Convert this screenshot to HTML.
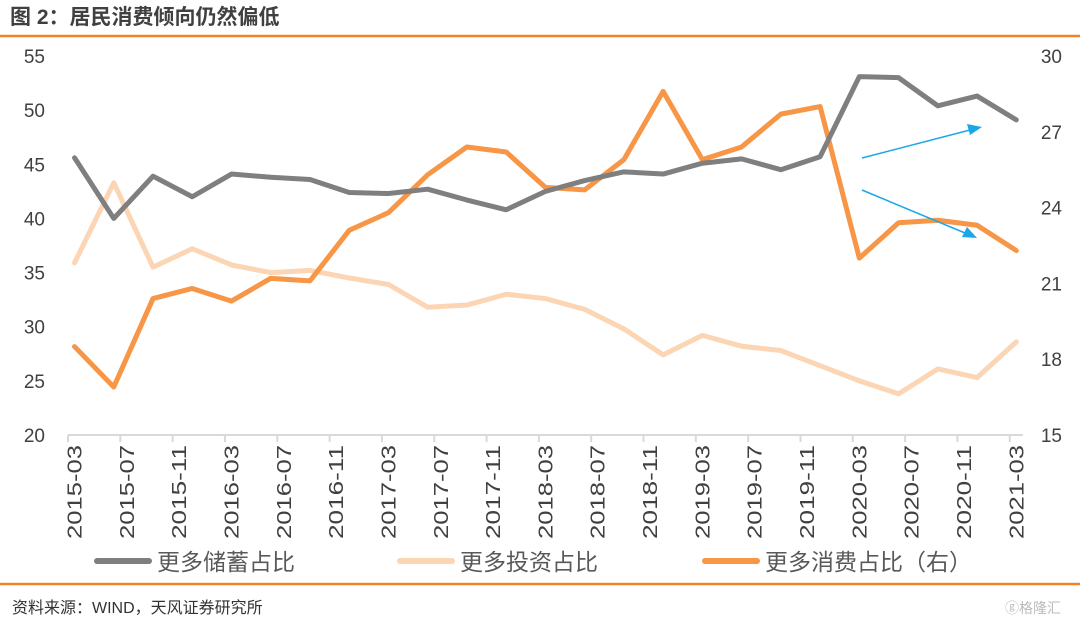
<!DOCTYPE html>
<html><head><meta charset="utf-8"><style>
body{margin:0;background:#fff;width:1080px;height:623px;overflow:hidden;font-family:"Liberation Sans","Noto Sans CJK SC",sans-serif}
</style></head><body>
<svg width="1080" height="623" xmlns="http://www.w3.org/2000/svg" id="chart">
<text x="10" y="24" font-size="21" font-weight="bold" fill="#404040" font-family="Liberation Sans, Noto Sans CJK SC, sans-serif">图 2：居民消费倾向仍然偏低</text>
<line x1="0" y1="36" x2="1080" y2="36" stroke="#f0822a" stroke-width="2.5"/>
<line x1="0" y1="584" x2="1080" y2="584" stroke="#f0822a" stroke-width="2.5"/>
<text x="12" y="613" font-size="16" fill="#333" font-family="Liberation Sans, Noto Sans CJK SC, sans-serif">资料来源：WIND，天风证券研究所</text>
<text x="1005" y="613" font-size="14" fill="#bbb" font-family="Liberation Sans, Noto Sans CJK SC, sans-serif">ⓖ格隆汇</text>
<g id="axes"></g><g id="series"></g>
<g>
<line x1="862" y1="158" x2="970" y2="130" stroke="#1aa7e8" stroke-width="1.5"/><polygon points="982,127 967,124 970,135" fill="#1aa7e8"/></g>
<g>
<line x1="862" y1="190" x2="965" y2="233" stroke="#1aa7e8" stroke-width="1.5"/><polygon points="977,238 967,227 962,237" fill="#1aa7e8"/></g>
<g id="legend"></g>
</svg>
<script>
const categories=["2015-03","2015-06","2015-09","2015-12","2016-03","2016-06","2016-09","2016-12","2017-03","2017-06","2017-09","2017-12","2018-03","2018-06","2018-09","2018-12","2019-03","2019-06","2019-09","2019-12","2020-03","2020-06","2020-09","2020-12","2021-03"];
const savings=[45.6,40,43.9,42,44.1,43.8,43.6,42.4,42.3,42.7,41.7,40.8,42.5,43.5,44.3,44.1,45.1,45.5,44.5,45.7,53.1,53,50.4,51.3,49.1];
const investment=[35.9,43.3,35.5,37.2,35.7,35,35.2,34.5,33.9,31.8,32,33,32.6,31.6,29.8,27.4,29.2,28.2,27.8,26.4,25,23.8,26.1,25.3,28.6];
const consumption=[18.5,16.9,20.4,20.8,20.3,21.2,21.1,23.1,23.8,25.3,26.4,26.2,24.8,24.7,25.9,28.6,25.9,26.4,27.7,28,22,23.4,23.5,23.3,22.3];
const leftTicks=[20,25,30,35,40,45,50,55];
const rightTicks=[15,18,21,24,27,30];
const xTickLabels=["2015-03","2015-07","2015-11","2016-03","2016-07","2016-11","2017-03","2017-07","2017-11","2018-03","2018-07","2018-11","2019-03","2019-07","2019-11","2020-03","2020-07","2020-11","2021-03"];
const NS="http://www.w3.org/2000/svg";
const X0=68,MW=13.08,YT=56,YB=435;
function monthIndex(s){const[y,m]=s.split("-").map(Number);return (y-2015)*12+(m-3);}
function x(s){return X0+MW*(monthIndex(s)+0.5);}
function yL(v){return YB-(v-20)/35*(YB-YT);}
function yR(v){return YB-(v-15)/15*(YB-YT);}
function mk(t,a,p){const e=document.createElementNS(NS,t);for(const k in a)e.setAttribute(k,a[k]);p.appendChild(e);return e;}
const ax=document.getElementById("axes");
mk("line",{x1:X0,y1:YB,x2:X0+73*MW,y2:YB,stroke:"#d9d9d9","stroke-width":2},ax);
xTickLabels.forEach((l,i)=>{
 const tx=X0+i*4*MW;
 const t=mk("line",{x1:tx,y1:YB,x2:tx,y2:YB+7,stroke:"#d9d9d9","stroke-width":2},ax);
 
 
 const cx=x(l);
 const tt=mk("text",{x:0,y:0,transform:`translate(${cx+7},${YB+10}) rotate(-90)`,"text-anchor":"end","font-size":20,textLength:94,lengthAdjust:"spacingAndGlyphs",fill:"#404040"},ax);
 tt.textContent=l;
 
 
});
leftTicks.forEach(v=>{
 const t=mk("text",{x:45,y:yL(v)+7,"text-anchor":"end","font-size":19,fill:"#404040"},ax);
 t.textContent=v;
 
 
});
rightTicks.forEach(v=>{
 const t=mk("text",{x:1062,y:yR(v)+7,"text-anchor":"end","font-size":19,fill:"#404040"},ax);
 t.textContent=v;
 
 
});
const sg=document.getElementById("series");
function line(vals,fy,color,name){
 const p=mk("polyline",{points:vals.map((v,i)=>x(categories[i])+","+fy(v)).join(" "),fill:"none",stroke:color,"stroke-width":5,"stroke-linejoin":"round","stroke-linecap":"round"},sg);
 
 
}
line(investment,yL,"#fcd5b5","line-investment");
line(consumption,yR,"#f79646","line-consumption");
line(savings,yL,"#7f7f7f","line-savings");
const lg=document.getElementById("legend");
[["更多储蓄占比","#7f7f7f",97],["更多投资占比","#fcd5b5",400],["更多消费占比（右）","#f79646",705]].forEach(([n,c,lx])=>{
 const g=mk("g",{},lg);
 
 
 mk("line",{x1:lx,y1:561,x2:lx+52,y2:561,stroke:c,"stroke-width":6,"stroke-linecap":"round"},g);
 const t=mk("text",{x:lx+60,y:570,"font-size":23,fill:"#595959"},g);
 t.textContent=n;
});
</script>
</body></html>
